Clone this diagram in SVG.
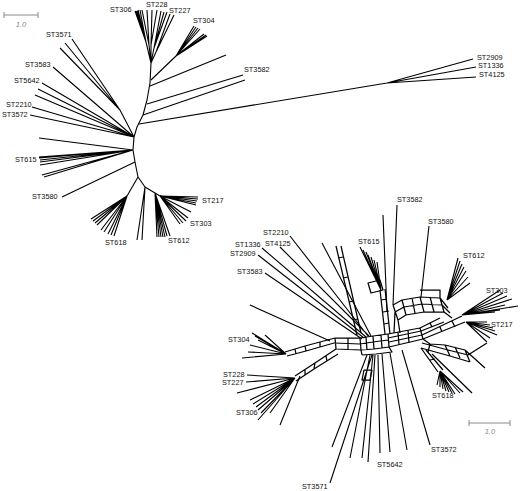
<svg xmlns="http://www.w3.org/2000/svg" width="520" height="491" viewBox="0 0 520 491">
<style>
.e{fill:none;stroke:#000;stroke-width:1.1;stroke-linejoin:round}
.n{fill:none;stroke:#000;stroke-width:1.25;stroke-linejoin:round}
.l{font-family:"Liberation Sans",Arial,sans-serif;font-size:7.3px;fill:#111}
.sb{fill:none;stroke:#8a8a8a;stroke-width:1}
.st{font-family:"Liberation Sans",Arial,sans-serif;font-size:7.5px;font-style:italic;fill:#8a8a8a}
</style>
<rect width="520" height="491" fill="#fff"/>
<g id="connectors">
<!-- top-left tree -->
<path class="e" d="M151,63 L150,83 L147,100 L143,115 L137,127 L134,137 L133,150 L135,162 L138,177"/>
<path class="e" d="M151,63 L146,42 M146,42 L135,11 M146,42 L136,11 M146,42 L137,11 M146,42 L138,10 M146,42 L140,10 M151,63 L149,45 L142,10 M149,45 L147,10 M151,63 L151,45 L152,10 M151,45 L157,10 M151,63 L154,48 L161,11 M154,48 L164,12 M154,48 L167,12 M151,63 L156,52 L170,14 M156,52 L174,15"/>
<path class="e" d="M151,80 L176,56 M176,56 L194,26 M176,56 L196,27 M176,56 L198,28 M176,56 L200,29 M176,56 L204,34 M176,56 L206,35 M176,56 L207,36"/>
<path class="e" d="M150,86 L226,55 M147,104 L243,75 M143,115 L245,80"/>
<path class="e" d="M139,124 L387,83 M387,83 L473,59 M387,83 L476,67 M387,83 L476,77"/>
<path class="e" d="M134,137 L120,110 M120,110 L72,39 M120,110 L65,43 M120,110 L60,48 M134,137 L53,67 M134,137 L42,83 M134,137 L38,89 M134,137 L35,95 M134,137 L32,107 M134,137 L30,115"/>
<path class="e" d="M133,150 L39,138 M133,150 L39,157 M133,150 L39,158 M133,150 L40,160 M133,150 L40,162 M133,150 L40,165 M133,150 L42,175 M133,150 L44,177 M135,162 L62,197"/>
<path class="e" d="M138,177 L127,196 M127,196 L91,219 M127,196 L93,221 M127,196 L95,223 M127,196 L97,225 M127,196 L101,230 M127,196 L104,232 M127,196 L108,234 M127,196 L111,235 M127,196 L114,236"/>
<path class="e" d="M138,177 L145,187 L137,240 M145,187 L142,240 M145,187 L155,193 M155,193 L157,237 M155,193 L159,237 M155,193 L161,237 M155,193 L163,237 M155,193 L165,237 M155,193 L167,236 M155,193 L170,236 M155,193 L160,196"/>
<path class="e" d="M160,196 L198,197 M160,196 L198,199 M160,196 L197,201 M160,196 L196,203 M160,196 L196,205 M160,196 L191,212 M160,196 L188,218 M160,196 L186,221 M160,196 L183,223 M160,196 L180,224"/>
<!-- network: center mesh -->
<path class="n" d="M360,338 L373,336 L388,334 M360,344 L373,342 L388,340 M361,350 L374,349 L389,347 M360,338 L361,350 M373,336 L374,349 M388,334 L389,347 M366,337 L367,350 M381,335 L382,348 M362,355 L376,354 L392,352 L389,347 M361,350 L362,355"/>
<!-- right band -->
<path class="n" d="M388,334 L420,328 M388,338 L421,331 M389,342 L422,335 M389,347 L423,339 M398,332 L399,345 M408,330 L409,343 M420,328 L423,339"/>
<path class="n" d="M420,328 L440,318 M421,331 L444,322 M430,323 L432,327 M422,335 L462,316 M423,339 L465,322 M440,327 L442,332 M452,321 L455,327"/>
<!-- left arm -->
<path class="n" d="M360,338 L335,338 M360,344 L334,343 M361,350 L336,349 M348,338 L348,350 M335,338 L336,349"/>
<path class="n" d="M335,338 L305,346 L285,352 M334,343 L306,351 L287,356 M320,342 L320,347 M305,346 L306,351 M295,349 L296,354"/>
<path class="e" d="M286,354 L252,333 M286,354 L255,336 M286,354 L258,340 M286,354 L250,345 M286,354 L248,352 M286,354 L242,358 M286,354 L265,335 M330,341 L250,305"/>
<path class="n" d="M336,349 L315,363 L295,376 M338,354 L314,369 L296,381 M326,356 L327,361 M315,363 L314,369 M305,370 L305,375"/>
<path class="e" d="M295,378 L247,375 M295,378 L246,382 M295,378 L237,393 M295,378 L250,400 M295,378 L253,404 M295,378 L256,407 M295,378 L258,410 M295,378 L261,413 M295,378 L258,420 M295,378 L270,413 M300,376 L280,425"/>
<!-- upper-left bundle -->
<path class="e" d="M368,336 L290,236 M366,337 L262,248 M364,338 L258,255 M369,336 L280,247 M362,339 L265,273 M371,336 L322,243"/>
<path class="n" d="M336,246 L357,335 M341,246 L361,333 M338,258 L343,257 M343,278 L348,277 M349,302 L354,301 M353,320 L358,319"/>
<!-- ST615 bundle -->
<path class="e" d="M381,290 L360,247 M381,290 L363,250 M381,290 L366,252 M381,290 L368,255 M381,290 L371,257 M381,290 L374,260 M381,290 L377,262"/>
<path class="n" d="M380,290 L385,334 M385,289 L390,334 M381,300 L387,299 M383,312 L389,311 M384,324 L389,323 M368,283 L380,280 L383,290 L371,293 Z"/>
<!-- ST3582 / ST3580 -->
<path class="e" d="M397,205 L393,305 M383,215 L387,312 M429,226 L421,297"/>
<!-- upper right boxes -->
<path class="n" d="M393,305 L402,300 L420,297 L440,298 L448,308 M395,312 L404,307 L422,304 L442,305 L450,313 M398,320 L406,315 L424,312 L444,312 L452,318 M402,300 L406,315 M412,298 L415,313 M420,297 L424,312 M430,297 L434,312 M440,298 L444,312 M420,290 L440,290 L440,298 M393,305 L398,320 L400,333 M395,312 L394,333"/>
<!-- ST612 -->
<path class="e" d="M447,300 L458,258 M447,300 L460,261 M447,300 L462,264 M447,300 L464,267 M447,300 L466,271 M447,300 L468,277 M447,300 L470,283"/>
<!-- ST303, ST217 -->
<path class="e" d="M462,315 L500,290 M462,315 L503,293 M462,315 L507,296 M462,315 L512,299 M462,315 L518,306 M462,315 L505,305 M462,315 L500,310 M462,315 L495,312"/>
<path class="e" d="M466,322 L487,322 M466,322 L490,325 M466,322 L493,328 M466,322 L495,331 M466,322 L497,335 M466,322 L490,338 M466,322 L487,342"/>
<!-- lower right boxes -->
<path class="n" d="M423,339 L430,344 L445,345 L465,350 L485,368 M422,343 L448,350 L468,355 M421,348 L450,356 L470,362 M445,345 L450,356 M455,347 L460,358 M465,350 L470,362 M430,344 L428,352 M468,355 L487,343 M432,354 L472,393"/>
<!-- ST618 -->
<path class="n" d="M421,348 L438,372 M426,350 L443,370 M430,360 L435,359"/>
<path class="e" d="M440,371 L437,385 M440,371 L440,387 M440,371 L443,389 M440,371 L446,391 M440,371 L449,392 M440,371 L452,393 M440,371 L455,394 M440,371 L460,393 M440,371 L463,392"/>
<!-- bottom fan -->
<path class="e" d="M367,355 L332,447 M370,355 L350,458 M373,355 L362,458 M375,355 L368,462 M378,355 L380,453 M382,354 L390,452 M390,353 L407,450 M402,350 L430,445 M372,355 L330,483"/>
<path class="n" d="M364,370 L372,370 L370,380 L362,380 Z"/>
</g>
<g id="scale-top"><path class="sb" d="M4,15 L38,15 M4,12 L4,18 M38,12 L38,18"/><text class="st" x="21" y="27" text-anchor="middle">1.0</text></g>
<g id="scale-bottom"><path class="sb" d="M469,423 L510,423 M469,420 L469,426 M510,420 L510,426"/><text class="st" x="490" y="434" text-anchor="middle">1.0</text></g>
<g id="t-ST306"><text class="l" x="110" y="12">ST306</text></g>
<g id="t-ST228"><text class="l" x="146" y="7">ST228</text></g>
<g id="t-ST227"><text class="l" x="169" y="13">ST227</text></g>
<g id="t-ST304"><text class="l" x="193" y="23">ST304</text></g>
<g id="t-ST3571"><text class="l" x="46" y="37">ST3571</text></g>
<g id="t-ST3583"><text class="l" x="25" y="67">ST3583</text></g>
<g id="t-ST5642"><text class="l" x="14" y="83">ST5642</text></g>
<g id="t-ST2210"><text class="l" x="6" y="107">ST2210</text></g>
<g id="t-ST3572"><text class="l" x="2" y="117">ST3572</text></g>
<g id="t-ST3582"><text class="l" x="244" y="72">ST3582</text></g>
<g id="t-ST615"><text class="l" x="15" y="162">ST615</text></g>
<g id="t-ST3580"><text class="l" x="32" y="199">ST3580</text></g>
<g id="t-ST217"><text class="l" x="202" y="203">ST217</text></g>
<g id="t-ST303"><text class="l" x="190" y="226">ST303</text></g>
<g id="t-ST618"><text class="l" x="105" y="245">ST618</text></g>
<g id="t-ST612"><text class="l" x="168" y="243">ST612</text></g>
<g id="t-ST2909"><text class="l" x="477" y="60">ST2909</text></g>
<g id="t-ST1336"><text class="l" x="478" y="68">ST1336</text></g>
<g id="t-ST4125"><text class="l" x="479" y="77">ST4125</text></g>
<g id="n-ST3582"><text class="l" x="397" y="202">ST3582</text></g>
<g id="n-ST3580"><text class="l" x="428" y="224">ST3580</text></g>
<g id="n-ST2210"><text class="l" x="263" y="235">ST2210</text></g>
<g id="n-ST1336"><text class="l" x="235" y="247">ST1336</text></g>
<g id="n-ST4125"><text class="l" x="265" y="246">ST4125</text></g>
<g id="n-ST2909"><text class="l" x="230" y="256">ST2909</text></g>
<g id="n-ST615"><text class="l" x="358" y="244">ST615</text></g>
<g id="n-ST612"><text class="l" x="463" y="258">ST612</text></g>
<g id="n-ST3583"><text class="l" x="237" y="274">ST3583</text></g>
<g id="n-ST303"><text class="l" x="486" y="293">ST303</text></g>
<g id="n-ST217"><text class="l" x="491" y="327">ST217</text></g>
<g id="n-ST304"><text class="l" x="228" y="342">ST304</text></g>
<g id="n-ST228"><text class="l" x="223" y="377">ST228</text></g>
<g id="n-ST227"><text class="l" x="222" y="385">ST227</text></g>
<g id="n-ST306"><text class="l" x="236" y="415">ST306</text></g>
<g id="n-ST618"><text class="l" x="432" y="398">ST618</text></g>
<g id="n-ST3572"><text class="l" x="431" y="452">ST3572</text></g>
<g id="n-ST5642"><text class="l" x="377" y="467">ST5642</text></g>
<g id="n-ST3571"><text class="l" x="302" y="489">ST3571</text></g>
</svg>
